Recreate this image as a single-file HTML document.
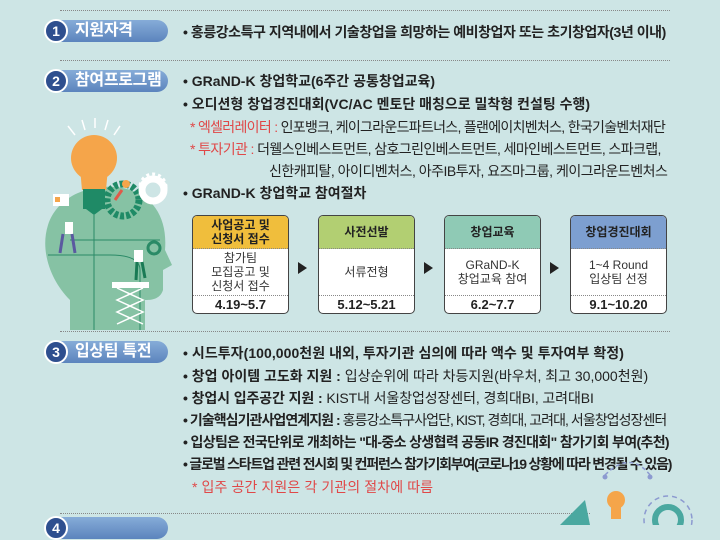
<!DOCTYPE html>
<html><head><meta charset="utf-8"><style>
*{margin:0;padding:0;box-sizing:border-box}
body{width:720px;height:525px;overflow:hidden;background:#cde5e5;font-family:"Liberation Sans","Noto Sans CJK KR",sans-serif;color:#222;position:relative}
.a{position:absolute}
.pill{position:absolute;height:22px;border-radius:11px;background:linear-gradient(#86acd8,#5b84bd);color:#fff;font-weight:bold;font-size:16px;line-height:22px;padding-left:29px;white-space:nowrap;letter-spacing:-0.3px}
.num{position:absolute;left:-2px;top:-1px;width:24px;height:24px;border-radius:50%;background:#2e4f8f;border:2px solid #fff;color:#fff;font-size:14px;line-height:20px;text-align:center;padding:0;letter-spacing:0}
.dl{position:absolute;height:0;border-top:1px dotted #888}
.t{position:absolute;font-size:14px;font-weight:bold;white-space:nowrap;letter-spacing:0}
.t span{font-weight:normal}
.r{color:#e04848;font-weight:normal}
.box{position:absolute;top:215px;width:97px;height:99px;border:1.5px solid #444;border-radius:5px;background:#fff;overflow:hidden;text-align:center;font-size:12px}
.h{height:33px;border-bottom:1px dotted #888;font-weight:bold;display:flex;align-items:center;justify-content:center;line-height:14px}
.bd{height:47px;border-bottom:1px dotted #888;display:flex;align-items:center;justify-content:center;line-height:14px;color:#333}
.dt{height:17px;line-height:17px;font-weight:bold;font-size:13px}
.arr{position:absolute;top:262px;width:0;height:0;border-top:6px solid transparent;border-bottom:6px solid transparent;border-left:9px solid #222}
</style></head><body>
<div class="dl" style="left:60px;top:10px;width:610px"></div>
<div class="dl" style="left:60px;top:60px;width:610px"></div>
<div class="dl" style="left:60px;top:331px;width:610px"></div>
<div class="dl" style="left:60px;top:513px;width:530px"></div>

<div class="pill" style="left:46px;top:20px;width:122px"><div class="num">1</div>지원자격</div>
<div class="pill" style="left:46px;top:70px;width:122px"><div class="num">2</div>참여프로그램</div>
<div class="pill" style="left:46px;top:341px;width:122px"><div class="num">3</div>입상팀 특전</div>
<div class="pill" style="left:46px;top:517px;width:122px"><div class="num">4</div></div>

<div class="t" style="left:183px;top:22px;letter-spacing:-0.45px">• 홍릉강소특구 지역내에서 기술창업을 희망하는 예비창업자 또는 초기창업자(3년 이내)</div>
<div class="t" style="left:183px;top:71px">• GRaND-K 창업학교(6주간 공통창업교육)</div>
<div class="t" style="left:183px;top:94px">• 오디션형 창업경진대회(VC/AC 멘토단 매칭으로 밀착형 컨설팅 수행)</div>
<div class="t" style="left:190px;top:117px;letter-spacing:-0.7px"><span class="r">* 엑셀러레이터 : </span><span>인포뱅크, 케이그라운드파트너스, 플랜에이치벤처스, 한국기술벤처재단</span></div>
<div class="t" style="left:190px;top:139px;letter-spacing:-0.6px"><span class="r">* 투자기관 : </span><span>더웰스인베스트먼트, 삼호그린인베스트먼트, 세마인베스트먼트, 스파크랩,</span></div>
<div class="t" style="left:269px;top:161px;letter-spacing:-0.5px"><span>신한캐피탈, 아이디벤처스, 아주IB투자, 요즈마그룹, 케이그라운드벤처스</span></div>
<div class="t" style="left:183px;top:183px">• GRaND-K 창업학교 참여절차</div>

<div class="box" style="left:192px"><div class="h" style="background:#f0be3c">사업공고 및<br>신청서 접수</div><div class="bd">참가팀<br>모집공고 및<br>신청서 접수</div><div class="dt">4.19~5.7</div></div>
<div class="arr" style="left:298px"></div>
<div class="box" style="left:318px"><div class="h" style="background:#b2cf72">사전선발</div><div class="bd">서류전형</div><div class="dt">5.12~5.21</div></div>
<div class="arr" style="left:424px"></div>
<div class="box" style="left:444px"><div class="h" style="background:#8fcab5">창업교육</div><div class="bd">GRaND-K<br>창업교육 참여</div><div class="dt">6.2~7.7</div></div>
<div class="arr" style="left:550px"></div>
<div class="box" style="left:570px"><div class="h" style="background:#7d9fd0">창업경진대회</div><div class="bd">1~4 Round<br>입상팀 선정</div><div class="dt">9.1~10.20</div></div>

<div class="t" style="left:183px;top:343px;letter-spacing:0.05px">• 시드투자(100,000천원 내외, 투자기관 심의에 따라 액수 및 투자여부 확정)</div>
<div class="t" style="left:183px;top:366px;letter-spacing:0px">• 창업 아이템 고도화 지원 : <span>입상순위에 따라 차등지원(바우처, 최고 30,000천원)</span></div>
<div class="t" style="left:183px;top:388px;letter-spacing:-0.1px">• 창업시 입주공간 지원 : <span>KIST내 서울창업성장센터, 경희대BI, 고려대BI</span></div>
<div class="t" style="left:183px;top:410px;letter-spacing:-0.95px">• 기술핵심기관사업연계지원 : <span>홍릉강소특구사업단, KIST, 경희대, 고려대, 서울창업성장센터</span></div>
<div class="t" style="left:183px;top:432px;letter-spacing:-0.65px">• 입상팀은 전국단위로 개최하는 "대-중소 상생협력 공동IR 경진대회" 참가기회 부여(추천)</div>
<div class="t" style="left:183px;top:454px;letter-spacing:-1.2px">• 글로벌 스타트업 관련 전시회 및 컨퍼런스 참가기회부여(코로나19 상황에 따라 변경될 수 있음)</div>
<div class="t" style="left:192px;top:477px;letter-spacing:0.1px"><span class="r">* 입주 공간 지원은 각 기관의 절차에 따름</span></div>

<svg class="a" style="left:0;top:0" width="720" height="525">
<path d="M70 330 L70 300 C50 280 40 250 48 225 C58 195 90 185 115 187 C150 190 168 215 165 250 L172 265 L163 270 L163 290 C160 300 150 300 145 300 L145 330 Z" fill="#86c2a4"/>
<g stroke="#fff" stroke-width="1.5"><line x1="75" y1="135" x2="68" y2="126"/><line x1="85" y1="130" x2="82" y2="120"/><line x1="95" y1="128" x2="95" y2="118"/><line x1="105" y1="130" x2="108" y2="120"/><line x1="114" y1="135" x2="120" y2="126"/></g>
<circle cx="94" cy="158" r="23" fill="#f5a54a"/>
<path d="M80 168 Q94 190 108 168 L106 190 L82 190 Z" fill="#f5a54a"/>
<rect x="83" y="189" width="22" height="20" fill="#1f8a66"/>
<path d="M86 209 L102 209 L94 215 Z" fill="#1f8a66"/>
<circle cx="123" cy="200" r="16" fill="none" stroke="#1f8a66" stroke-width="7" stroke-dasharray="4 2"/>
<circle cx="153" cy="190" r="11" fill="none" stroke="#fff" stroke-width="7"/>
<circle cx="153" cy="187" r="13" fill="none" stroke="#fff" stroke-width="3" stroke-dasharray="3 3"/>
<rect x="53" y="194" width="16" height="12" fill="#fff"/>
<rect x="55" y="197" width="5" height="5" fill="#f5a54a"/>
<g stroke="#2a8a66" stroke-width="1" fill="none"><path d="M94 215 V330"/><path d="M70 240 H160"/><path d="M48 255 H110 Q140 255 140 270 V330"/></g>
<rect x="65" y="222" width="8" height="12" fill="#fff"/><path d="M63 234 L60 253 M72 234 L75 253" stroke="#5a5aa0" stroke-width="3"/>
<rect x="134" y="250" width="9" height="12" fill="#fff"/><path d="M137 262 L136 280 M142 262 L145 278" stroke="#1a7a55" stroke-width="3"/>
<circle cx="126" cy="184" r="4" fill="#f5a54a"/><path d="M122 190 L115 200" stroke="#e05a48" stroke-width="3"/>
<rect x="112" y="282" width="37" height="6" fill="#fff"/>
<path d="M117 288 L143 300 L117 312 L143 324 M143 288 L117 300 L143 312 L117 324" stroke="#fff" stroke-width="1.5" fill="none"/>
<circle cx="154" cy="248" r="6" fill="none" stroke="#2a8a66" stroke-width="3"/>
<path d="M605 475 Q630 450 650 475" stroke="#8c9ad0" stroke-dasharray="4 3" fill="none" stroke-width="1.5"/>
<circle cx="605" cy="477" r="2.5" fill="#8c9ad0"/><circle cx="650" cy="477" r="2.5" fill="#8c9ad0"/>
<circle cx="616" cy="500" r="9" fill="#f5a54a"/><rect x="611" y="507" width="10" height="12" fill="#f5a54a"/>
<circle cx="668" cy="520" r="24" fill="none" stroke="#8c9ad0" stroke-dasharray="5 4" stroke-width="1.5"/>
<circle cx="668" cy="520" r="13" fill="none" stroke="#4aa8a0" stroke-width="6"/>
<path d="M560 525 L585 500 L590 525 Z" fill="#4aa8a0"/>
</svg>
</body></html>
